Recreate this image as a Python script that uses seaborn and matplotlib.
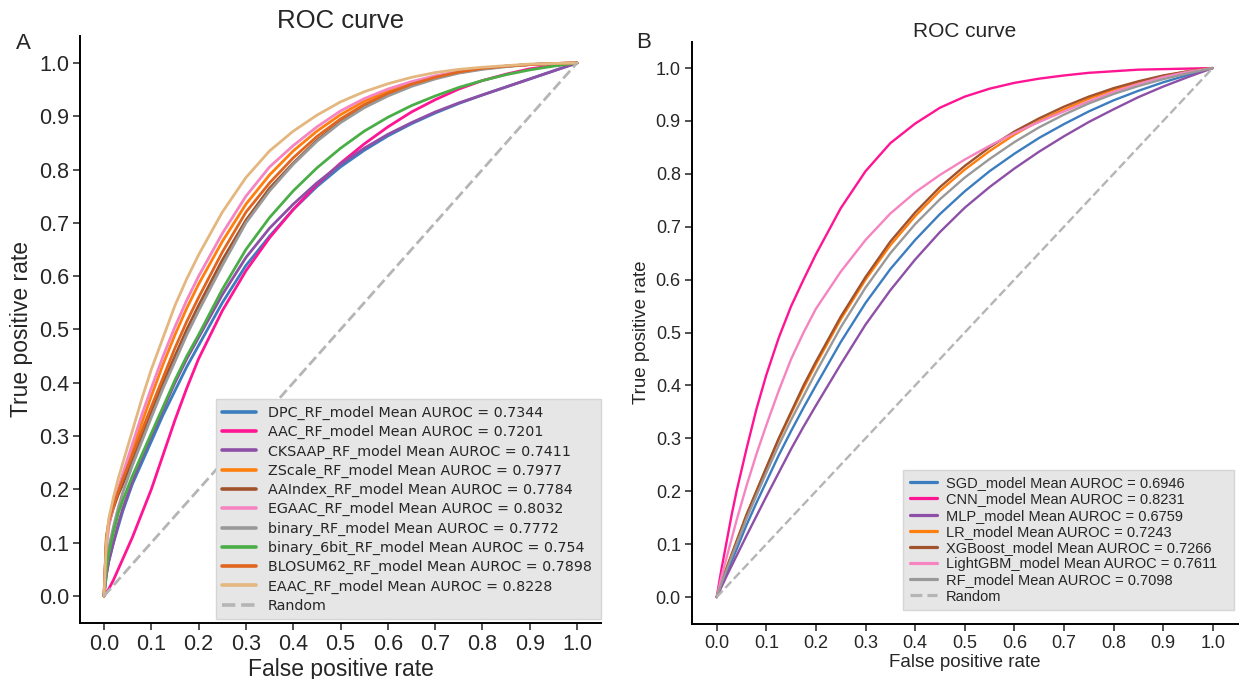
import numpy as np
import pandas as pd
import matplotlib
matplotlib.use("Agg")
import matplotlib.pyplot as plt
import seaborn as sns
from matplotlib.lines import Line2D

# shared false positive rate grid
fpr = [0, 0.005, 0.01, 0.02, 0.03, 0.04, 0.06, 0.08, 0.1, 0.125, 0.15, 0.175, 0.2,
       0.25, 0.3, 0.35, 0.4, 0.45, 0.5, 0.55, 0.6, 0.65, 0.7, 0.75, 0.8, 0.85, 0.9,
       0.95, 1.0]

# Panel A: RF models on different encodings
names_a = ["DPC_RF_model", "AAC_RF_model", "CKSAAP_RF_model", "ZScale_RF_model",
           "AAIndex_RF_model", "EGAAC_RF_model", "binary_RF_model",
           "binary_6bit_RF_model", "BLOSUM62_RF_model", "EAAC_RF_model"]
auc_a = ["0.7344", "0.7201", "0.7411", "0.7977", "0.7784", "0.8032", "0.7772",
         "0.754", "0.7898", "0.8228"]
colors_a = ["#3b7dbf", "#ff1493", "#8e4fa6", "#ff7f0e", "#a0522d", "#f584c0",
            "#999999", "#4aae47", "#e0661f", "#e3b77f"]
tpr_dpc = [0, .04, .065, .10, .13, .16, .21, .25, .29, .34, .385, .43, .47, .55, .62, .675,
           .725, .768, .805, .836, .863, .886, .906, .924, .94, .955, .97, .985, 1]
tpr_aac = [0, .006, .013, .03, .05, .07, .11, .155, .20, .265, .33, .39, .445, .535, .61,
           .672, .725, .772, .812, .848, .88, .908, .931, .951, .967, .979, .989, .995, 1]
tpr_cksaap = [0, .04, .065, .10, .135, .165, .215, .26, .30, .35, .40, .445, .485, .565,
              .635, .69, .735, .775, .81, .84, .866, .888, .908, .925, .94, .955, .97, .985, 1]
tpr_zscale = [0, .10, .135, .17, .20, .225, .275, .325, .375, .435, .49, .54, .585, .665,
              .735, .79, .835, .872, .903, .928, .947, .962, .974, .983, .99, .994, .997, .999, 1]
tpr_aaindex = [0, .11, .135, .165, .19, .21, .255, .30, .345, .40, .45, .50, .545, .63,
               .705, .765, .812, .855, .89, .918, .94, .958, .972, .982, .989, .994, .997, .999, 1]
tpr_egaac = [0, .09, .13, .17, .20, .23, .285, .34, .39, .45, .505, .555, .60, .68, .75,
             .805, .845, .88, .91, .933, .951, .965, .976, .984, .99, .994, .997, .999, 1]
tpr_binary = [0, .06, .09, .13, .165, .195, .245, .29, .335, .39, .44, .49, .535, .62, .70,
              .76, .81, .853, .888, .916, .938, .956, .97, .981, .988, .993, .997, .999, 1]
tpr_6bit = [0, .05, .08, .12, .155, .18, .225, .265, .305, .355, .405, .45, .49, .575, .65,
            .71, .76, .803, .84, .872, .898, .92, .938, .954, .967, .978, .987, .994, 1]
tpr_blosum = [0, .11, .14, .17, .195, .22, .265, .31, .355, .41, .465, .515, .56, .645, .72,
              .775, .822, .862, .895, .922, .943, .96, .973, .983, .99, .994, .997, .999, 1]
tpr_eaac = [0, .10, .145, .185, .22, .25, .31, .37, .425, .485, .545, .595, .64, .72, .785,
            .835, .872, .902, .927, .946, .961, .973, .982, .988, .992, .995, .998, .999, 1]
tprs_a = [tpr_dpc, tpr_aac, tpr_cksaap, tpr_zscale, tpr_aaindex, tpr_egaac,
          tpr_binary, tpr_6bit, tpr_blosum, tpr_eaac]

# Panel B: classifiers
names_b = ["SGD_model", "CNN_model", "MLP_model", "LR_model", "XGBoost_model",
           "LightGBM_model", "RF_model"]
auc_b = ["0.6946", "0.8231", "0.6759", "0.7243", "0.7266", "0.7611", "0.7098"]
colors_b = ["#3b7dbf", "#ff1493", "#8e4fa6", "#ff7f0e", "#a0522d", "#f584c0", "#999999"]
tpr_sgd = [0, .012, .024, .046, .068, .09, .136, .178, .218, .268, .314, .358, .40, .482,
           .556, .62, .675, .724, .767, .805, .838, .868, .894, .918, .939, .957, .973, .987, 1]
tpr_cnn = [0, .028, .055, .105, .155, .20, .28, .355, .42, .49, .55, .60, .648, .735, .805,
           .858, .895, .925, .946, .961, .972, .98, .986, .991, .994, .997, .998, .999, 1]
tpr_mlp = [0, .01, .02, .04, .059, .078, .116, .153, .19, .235, .28, .322, .362, .44, .515,
           .58, .638, .69, .736, .775, .81, .842, .871, .898, .922, .945, .965, .983, 1]
tpr_lr = [0, .015, .03, .056, .081, .106, .156, .20, .244, .298, .347, .395, .44, .525, .60,
          .665, .72, .768, .808, .843, .874, .90, .922, .942, .959, .973, .985, .994, 1]
tpr_xgb = [0, .015, .03, .055, .08, .105, .155, .20, .245, .30, .35, .40, .445, .53, .605,
           .672, .727, .775, .815, .85, .88, .905, .927, .946, .962, .975, .986, .994, 1]
tpr_lgbm = [0, .02, .04, .075, .11, .145, .21, .27, .325, .39, .45, .50, .545, .615, .675,
            .725, .765, .798, .827, .853, .877, .898, .918, .937, .955, .97, .983, .993, 1]
tpr_rf = [0, .014, .027, .052, .076, .10, .148, .192, .235, .287, .335, .38, .425, .51, .585,
          .65, .705, .752, .793, .828, .86, .888, .912, .933, .951, .966, .979, .99, 1]
tprs_b = [tpr_sgd, tpr_cnn, tpr_mlp, tpr_lr, tpr_xgb, tpr_lgbm, tpr_rf]

ticks = [0.0, 0.1, 0.2, 0.3, 0.4, 0.5, 0.6, 0.7, 0.8, 0.9, 1.0]


def build_df(names, aucs, tprs):
    rows = []
    for n, a, t in zip(names, aucs, tprs):
        lab = f"{n} Mean AUROC = {a}"
        for x, y in zip(fpr, t):
            rows.append((lab, x, y))
    return pd.DataFrame(rows, columns=["model", "fpr", "tpr"])


sns.set_theme(style="ticks")
plt.rcParams["font.family"] = ["Liberation Sans", "DejaVu Sans"]

fig = plt.figure(figsize=(12.4, 6.79), dpi=100)
ax_a = fig.add_axes([0.0648, 0.083, 0.4196, 0.8635])
ax_b = fig.add_axes([0.558, 0.0817, 0.44, 0.857])


def draw(ax, names, aucs, tprs, colors, lw, tick_fs, lab_fs, title_fs, title_pad,
         leg_fs, leg_font, leg_box, handlelen, labspace, hpad):
    df = build_df(names, aucs, tprs)
    labels = list(df["model"].unique())
    sns.lineplot(data=df, x="fpr", y="tpr", hue="model", hue_order=labels,
                 palette=colors, linewidth=lw, errorbar=None, legend=False, ax=ax)
    ax.plot([0, 1], [0, 1], linestyle="--", color="#b5b5b5", linewidth=lw)
    handles = [Line2D([], [], color=c, linewidth=lw + 0.6) for c in colors]
    handles.append(Line2D([], [], color="#b5b5b5", linestyle="--", linewidth=lw + 0.6))
    ax.legend(handles, labels + ["Random"], loc="lower left", mode="expand",
              bbox_to_anchor=leg_box, borderaxespad=0, frameon=True, fancybox=False,
              facecolor="#e6e6e6", edgecolor="#d6d6d6", framealpha=1,
              prop={"family": leg_font, "size": leg_fs},
              handlelength=handlelen, labelspacing=labspace, borderpad=0.45,
              handletextpad=hpad)
    ax.set_xlim(-0.05, 1.05)
    ax.set_ylim(-0.05, 1.05)
    ax.set_xticks(ticks)
    ax.set_yticks(ticks)
    ax.set_xticklabels([f"{t:.1f}" for t in ticks])
    ax.set_yticklabels([f"{t:.1f}" for t in ticks])
    ax.tick_params(labelsize=tick_fs, length=5, width=1.2, color="#333333", pad=3)
    ax.set_xlabel("False positive rate", fontsize=lab_fs, labelpad=2)
    ax.set_ylabel("True positive rate", fontsize=lab_fs, labelpad=4)
    ax.set_title("ROC curve", fontsize=title_fs, pad=title_pad)
    sns.despine(ax=ax)
    for s in ["left", "bottom"]:
        ax.spines[s].set_linewidth(1.4)
        ax.spines[s].set_color("black")


draw(ax_a, names_a, auc_a, tprs_a, colors_a, 2.0, 15.5, 16.5, 18.5, 6,
     10.3, "DejaVu Sans", (0.26, 0.006, 0.74, 0.3), 2.4, 0.36, 0.8)

draw(ax_b, names_b, auc_b, tprs_b, colors_b, 1.7, 13, 13.5, 15, 3,
     10.5, "Liberation Sans", (0.387, 0.023, 0.607, 0.25), 1.9, 0.15, 0.6)

fig.text(0.013, 0.928, "A", fontsize=16)
fig.text(0.513, 0.93, "B", fontsize=16)

fig.savefig("out.png", dpi=100)
